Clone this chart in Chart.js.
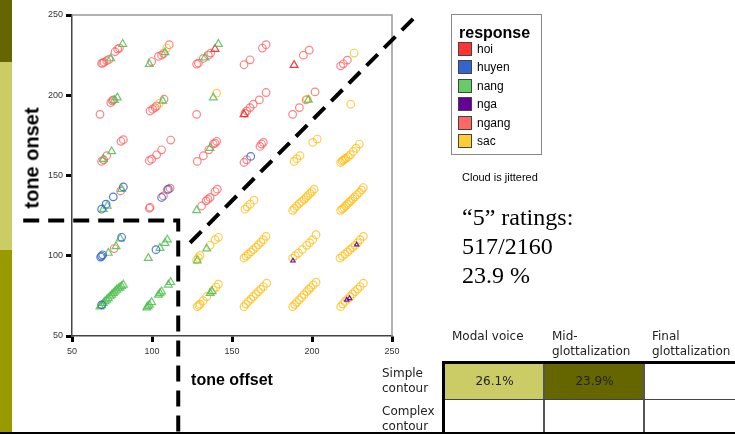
<!DOCTYPE html>
<html>
<head>
<meta charset="utf-8">
<script src="https://cdn.jsdelivr.net/npm/chart.js@4.4.0/dist/chart.umd.min.js"></script>
<style>
  body { margin: 0; background: #fff; }
  #wrap { position: relative; width: 735px; height: 435px; overflow: hidden; font-family: "Liberation Sans", Arial, sans-serif; }
  #chart { position: absolute; left: 0; top: 0; }
  .abs { position: absolute; white-space: nowrap; }
  .tbl { font-family: "DejaVu Sans", Verdana, sans-serif; font-size: 12px; line-height: 15px; color: #222; }
  .big { font-family: "Liberation Serif", "Times New Roman", serif; font-size: 24px; line-height: 29px; color: #000; }
</style>
</head>
<body>
<div id="wrap">
  <!-- side bars -->
  <div class="abs" style="left:0;top:0;width:12px;height:62px;background:#666600"></div>
  <div class="abs" style="left:0;top:62px;width:12px;height:188px;background:#cccc66"></div>
  <div class="abs" style="left:0;top:250px;width:12px;height:182px;background:#999900"></div>

  <canvas id="chart" width="735" height="435"></canvas>

  <div class="abs" style="left:32px;top:158px;transform:translate(-50%,-50%) rotate(-90deg);font-weight:bold;font-size:20px;color:#000">tone onset</div>

  <div id="legend" class="abs" style="left:451px;top:14px;width:89px;height:139px;border:1px solid #888"></div>

  <div class="abs" style="left:462px;top:171px;font-size:11px;color:#000">Cloud is jittered</div>
  <div class="abs big" style="left:462px;top:203px">“5” ratings:<br>517/2160<br>23.9 %</div>

  <!-- table -->
  <div class="abs tbl" style="left:452px;top:329px">Modal voice</div>
  <div class="abs tbl" style="left:552px;top:329px">Mid-<br>glottalization</div>
  <div class="abs tbl" style="left:652px;top:329px">Final<br>glottalization</div>
  <div class="abs tbl" style="left:382px;top:366px">Simple<br>contour</div>
  <div class="abs tbl" style="left:382px;top:404px">Complex<br>contour</div>

  <div class="abs" style="left:445px;top:364px;width:99px;height:35px;background:#cccc66"></div>
  <div class="abs" style="left:545px;top:364px;width:99px;height:35px;background:#666600"></div>
  <div id="c1" class="abs tbl" style="left:445px;top:374px;width:99px;text-align:center"></div>
  <div id="c2" class="abs tbl" style="left:545px;top:374px;width:99px;text-align:center"></div>
  <div class="abs" style="left:443px;top:361px;width:292px;height:3px;background:#000"></div>
  <div class="abs" style="left:442px;top:361px;width:3px;height:72px;background:#000"></div>
  <div class="abs" style="left:543px;top:364px;width:2px;height:69px;background:#555"></div>
  <div class="abs" style="left:643px;top:364px;width:2px;height:69px;background:#555"></div>
  <div class="abs" style="left:445px;top:399px;width:290px;height:1px;background:#444"></div>
  <div class="abs" style="left:0;top:432px;width:735px;height:2px;background:#000"></div>
</div>

<script>
// tone categories and their colours
var responses = ['hoi', 'huyen', 'nang', 'nga', 'ngang', 'sac'];
var swatchColors = ['#ff3333', '#3366cc', '#66cc66', '#660099', '#ff6666', '#ffcc33'];
var tickValues = [50, 100, 150, 200, 250];
var cellValues = ['26.1%', '23.9%'];

// jittered points [tone offset, tone onset]
var ngangPts = [
  [68.5,219.8],[69.2,220.0],[70.0,220.6],[71.7,221.5],[73.1,222.3],[76.9,227.1],[78.5,228.8],[79.6,229.4],
  [99.8,221.0],[104.0,224.2],[106.0,225.0],[107.2,226.0],[110.8,231.5],
  [127.9,219.4],[129.0,220.0],[132.1,222.9],[135.2,225.0],[136.7,226.3],
  [157.5,219.0],[161.3,222.1],[169.0,229.4],[171.3,231.5],
  [194.6,225.0],[198.3,228.1],
  [217.9,218.3],[219.6,219.6],[222.1,221.9],
  [67.5,188.1],[74.2,195.4],[75.2,196.5],[75.8,197.1],
  [98.8,190.2],[100.4,191.3],[101.9,192.3],[102.9,193.3],[107.5,197.5],
  [127.9,188.1],
  [158.1,188.8],[159.2,190.2],[161.3,192.3],[163.3,194.4],[167.1,197.1],[171.3,201.7],
  [187.9,188.1],[192.1,192.3],[196.3,197.1],[201.9,202.1],
  [68.5,158.8],[69.8,159.8],[71.7,162.3],[80.6,171.3],[82.1,172.3],
  [98.3,159.2],[99.8,160.2],[102.9,162.9],[106.0,166.0],[111.7,172.1],
  [128.3,158.8],[132.1,162.3],[135.5,166.0],[138.3,169.6],[139.4,170.2],[140.4,171.3],
  [157.5,158.1],[159.2,159.8],[167.5,168.1],[168.5,169.6],[169.6,170.6],
  [80.4,140.4],
  [98.3,129.6],[98.8,130.2],[107.1,137.3],[109.5,141.0],[111.3,142.1],
  [131.0,131.0],[133.8,134.2],[135.0,135.2],[136.3,136.3],[139.4,140.0],[140.8,141.5],
  [76.3,104.5]
];
var hoiPts = [[139.4,228.8],[188.8,218.8],[157.5,188.1]];
var nangPts = [
  [81.7,231.9],[74.2,222.9],[98.3,219.4],[108.1,226.7],[133.1,223.5],[141.5,231.9],
  [78.3,198.5],[76.5,197.0],[106.7,196.5],[138.3,198.5],[197.7,197.1],
  [69.6,160.2],[74.8,165.0],[136.3,167.1],
  [69.6,129.0],[72.0,131.0],[81.0,141.5],[127.9,128.3],
  [72.7,101.7],[77.5,105.8],[80.2,110.6],[97.7,98.5],[105.0,104.8],[108.1,107.9],[109.6,110.0],[128.3,97.0],[134.2,104.4],
  [67.5,68.3],[68.5,69.0],[69.6,70.4],[70.6,71.5],[71.7,72.5],[72.7,73.5],[73.8,74.6],[74.8,75.6],
  [75.8,76.7],[76.9,77.7],[77.9,78.8],[79.0,79.6],[80.0,80.2],[81.0,81.0],[82.1,81.9],
  [96.7,67.7],[97.5,68.5],[98.3,69.4],[99.8,71.0],[104.0,75.6],[105.0,76.6],[106.0,77.7],[110.2,81.9],[111.7,83.5],
  [136.3,76.7],[137.5,77.8]
];
var huyenPts = [
  [161.7,161.9],
  [68.5,129.0],[71.3,132.1],[75.8,136.7],[82.1,142.9],[106.0,136.3],[110.2,141.5],
  [67.9,99.2],[68.5,99.8],[69.2,100.6],[81.0,111.5],[102.5,103.8],
  [68.5,69.4]
];
var ngaPts = [[188.1,96.9],[227.9,106.9],[221.7,72.5],[223.5,73.5]];
var sacPts = [
  [109.2,229.4],[226.3,226.3],
  [104.6,195.0],[140.4,201.3],[197.1,197.5],[224.2,194.4],
  [188.8,158.8],[190.5,160.5],[192.5,162.3],[200.4,170.6],[203.3,172.7],
  [217.9,158.1],[218.8,159.0],[219.6,159.6],[220.5,160.2],[221.3,160.8],[222.7,161.7],[224.0,163.0],[225.8,165.0],[227.5,167.0],[229.6,169.6],
  [158.1,129.0],[159.5,130.5],[161.3,132.1],[163.8,134.6],
  [187.9,128.3],[189.0,129.5],[190.4,131.0],[192.0,132.5],[193.5,133.8],[195.0,135.0],[196.3,136.3],[197.5,137.5],[198.8,138.8],[200.0,140.0],[201.3,141.5],
  [217.9,128.3],[219.0,129.2],[220.0,130.0],[221.0,131.0],[222.1,132.1],[223.2,133.2],[224.2,134.2],[225.5,135.5],[226.9,136.7],[228.2,138.0],[229.6,139.4],[231.0,141.0],[232.1,142.5],
  [127.9,97.5],[129.0,98.8],[130.0,100.2],[136.3,106.5],[139.4,110.0],[141.5,111.5],
  [157.5,98.5],[158.8,99.8],[160.2,101.0],[161.8,102.4],[163.3,103.8],[165.0,105.3],[166.5,106.9],[168.0,108.4],[169.6,110.0],[171.3,112.1],
  [187.9,98.5],[189.5,100.0],[191.5,101.7],[194.0,104.0],[196.7,106.5],[198.5,108.2],[200.4,110.0],[202.5,113.1],
  [217.5,98.5],[219.0,99.8],[220.6,101.0],[222.2,102.4],[223.8,103.8],[225.3,105.1],[226.9,106.5],[228.5,108.2],[230.0,110.0],[232.1,112.1],
  [128.3,68.3],[129.2,69.0],[130.0,69.8],[132.0,72.0],[134.2,74.6],[138.3,78.8],[140.0,80.5],[141.5,82.3],
  [157.5,68.3],[158.8,69.9],[160.2,71.5],[161.8,73.0],[163.3,74.6],[165.0,76.2],[166.5,77.7],[168.0,79.2],[169.6,80.8],[171.7,82.9],
  [187.9,68.3],[189.2,69.6],[190.4,71.0],[192.0,72.5],[193.5,74.0],[195.0,75.8],[196.7,77.7],[198.0,79.0],[199.2,80.2],[200.8,81.8],[202.5,83.5],
  [217.9,68.3],[219.2,69.9],[220.6,71.5],[222.2,73.0],[223.8,74.6],[225.3,76.2],[226.9,77.7],[228.5,79.2],[230.0,80.8],[232.1,82.9]
];

// dashed guide lines (value space)
var diagLine = [[123.8,108.1],[264.4,248.8]];
var cornerLine = [[19.5,121.9],[116.4,121.9],[116.4,-12]];

function toXY(arr) {
  return arr.map(function(p) { return {x: p[0], y: p[1]}; });
}

function pts(data, color, style, r) {
  return {
    data: toXY(data),
    borderColor: color,
    backgroundColor: 'rgba(0,0,0,0)',
    pointStyle: style,
    pointRadius: r,
    pointBorderWidth: 1.2,
    pointHoverRadius: r
  };
}

function dashed(data) {
  return {
    data: toXY(data),
    showLine: true,
    borderColor: '#000',
    borderWidth: 4,
    borderDash: [16, 9],
    pointRadius: 0,
    fill: false,
    tension: 0,
    clip: false
  };
}

// legend
var leg = document.getElementById('legend');
var html = '<div class="abs" style="left:7px;top:9px;font-weight:bold;font-size:16px;line-height:18px">response</div>';
responses.forEach(function(name, i) {
  var top = 27 + i * 18.4;
  html += '<div class="abs" style="left:6px;top:' + top + 'px;width:14px;height:14px;box-sizing:border-box;border:1px solid #444;background:' + swatchColors[i] + '"></div>';
  html += '<div class="abs" style="left:25px;top:' + top + 'px;font-size:12px;line-height:14px">' + name + '</div>';
});
leg.innerHTML = html;
document.getElementById('c1').textContent = cellValues[0];
document.getElementById('c2').textContent = cellValues[1];

var framePlugin = {
  id: 'frame',
  beforeDatasetsDraw: function(chart) {
    var a = chart.chartArea, ctx = chart.ctx;
    ctx.save();
    ctx.strokeStyle = '#999';
    ctx.lineWidth = 1.5;
    ctx.beginPath();
    ctx.moveTo(a.left, a.top);
    ctx.lineTo(a.right, a.top);
    ctx.lineTo(a.right, a.bottom);
    ctx.stroke();
    ctx.restore();
  }
};

var tickFont = {family: 'Liberation Sans', size: 9};

var config = {
  type: 'scatter',
  data: {
    datasets: [
      dashed(diagLine),
      dashed(cornerLine),
      pts(ngaPts, 'rgba(102,0,153,0.9)', 'triangle', 2.5),
      pts(huyenPts, 'rgba(50,100,210,0.85)', 'circle', 3.8),
      pts(nangPts, 'rgba(80,190,80,0.85)', 'triangle', 4.5),
      pts(hoiPts, 'rgba(240,40,40,0.9)', 'triangle', 4.5),
      pts(sacPts, 'rgba(255,192,30,0.8)', 'circle', 3.8),
      pts(ngangPts, 'rgba(255,90,90,0.75)', 'circle', 3.8)
    ]
  },
  options: {
    responsive: false,
    animation: false,
    events: [],
    layout: { padding: {left: 0, top: 15, right: 343, bottom: 0} },
    plugins: { legend: {display: false}, tooltip: {enabled: false} },
    scales: {
      x: {
        type: 'linear', min: 50, max: 250,
        afterBuildTicks: function(s) { s.ticks = tickValues.map(function(v) { return {value: v}; }); },
        afterFit: function(s) { s.height = 99; },
        ticks: {font: tickFont, color: '#333', padding: 4, maxRotation: 0},
        grid: {drawOnChartArea: false, tickLength: 6, tickWidth: 3, tickColor: '#000'},
        border: {color: '#444', width: 1.5},
        title: {display: true, text: 'tone offset', color: '#000',
                font: {family: 'Liberation Sans', size: 16, weight: 'bold'},
                padding: {top: 0, bottom: 45}}
      },
      y: {
        type: 'linear', min: 50, max: 250,
        afterBuildTicks: function(s) { s.ticks = tickValues.map(function(v) { return {value: v}; }); },
        afterFit: function(s) { s.width = 72; },
        ticks: {font: tickFont, color: '#333', padding: 3},
        grid: {drawOnChartArea: false, tickLength: 6, tickWidth: 3, tickColor: '#000'},
        border: {color: '#444', width: 1.5}
      }
    }
  },
  plugins: [framePlugin]
};

var ctx = document.getElementById('chart').getContext('2d');
window.myScatter = new Chart(ctx, config);
</script>
</body>
</html>
